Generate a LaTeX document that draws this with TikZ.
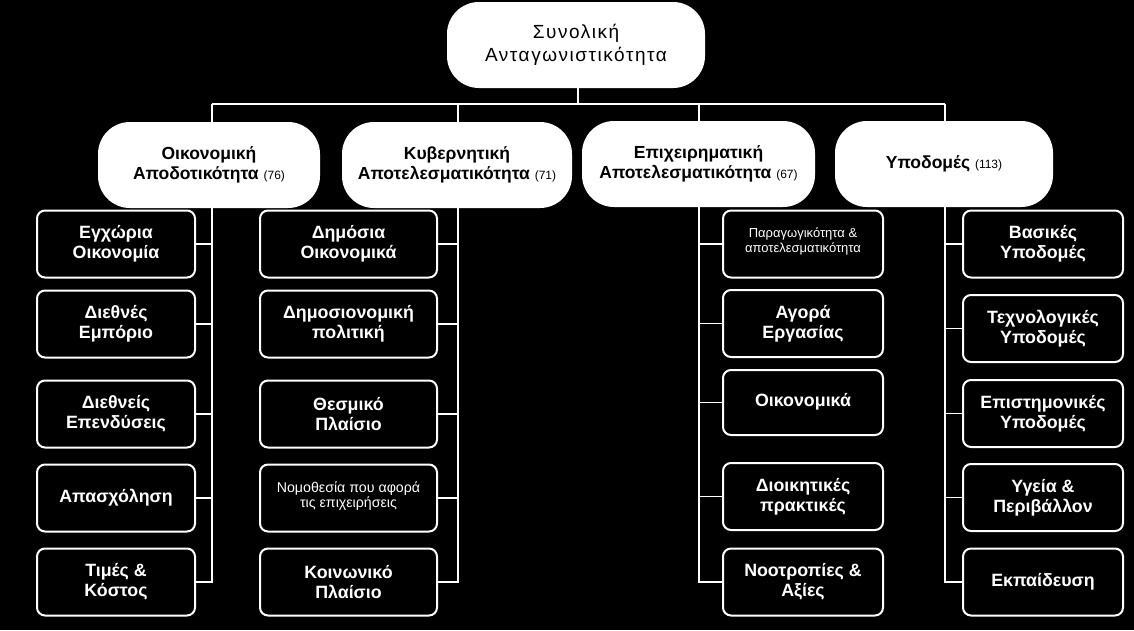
\documentclass[tikz,border=0pt]{standalone}
\usepackage{fontspec}
\setmainfont{Liberation Sans}
\newfontfamily\rootfont[LetterSpace=8]{Liberation Sans}
\begin{document}
\begin{tikzpicture}[x=1pt,y=-1pt,
  topbox/.style={fill=white, rounded corners=32pt, text=black, align=center, inner sep=0pt,
     minimum height=86pt, font=\bfseries\fontsize{17.5}{20}\selectfont},
  leaf/.style={draw=white, line width=2pt, fill=black, rounded corners=8pt, text=white,
     align=center, inner sep=0pt, minimum height=67pt, font=\bfseries\fontsize{17.8}{20}\selectfont},
  smalltext/.style={font=\fontsize{13}{15}\selectfont},
  wire/.style={draw=white, line width=1.6pt}]
\fill[black] (0,0) rectangle (1134,630);
\useasboundingbox (0,0) rectangle (1134,630);

% leaves, column 1
\begin{scope}[every node/.append style={leaf, minimum width=158pt}]
\node (a1) at (116,244) {Εγχώρια\\Οικονομία};
\node (a2) at (116,324) {Διεθνές\\Εμπόριο};
\node (a3) at (116,414) {Διεθνείς\\Επενδύσεις};
\node (a4) at (116,498) {Απασχόληση};
\node (a5) at (116,582) {Τιμές \&\\Κόστος};
\end{scope}
% column 2
\begin{scope}[every node/.append style={leaf, minimum width=177pt}]
\node (b1) at (348.5,244) {Δημόσια\\Οικονομικά};
\node (b2) at (348.5,324) {Δημοσιονομική\\πολιτική};
\node (b3) at (348.5,414) {Θεσμικό\\Πλαίσιο};
\node[font=\fontsize{14.2}{15}\selectfont] (b4) at (348.5,498) {Νομοθεσία που αφορά\\τις επιχειρήσεις\\[-9pt]};
\node (b5) at (348.5,582) {Κοινωνικό\\Πλαίσιο};
\end{scope}
% column 3
\begin{scope}[every node/.append style={leaf, minimum width=160pt}]
\node[smalltext] (c1) at (803,244) {Παραγωγικότητα \&\\αποτελεσματικότητα\\[-8pt]};
\node (c2) at (803,323.5) {Αγορά\\Εργασίας};
\node[minimum height=65pt] (c3) at (803,402.5) {Οικονομικά\\[-14pt]};
\node (c4) at (803,496.5) {Διοικητικές\\πρακτικές};
\node (c5) at (803,582) {Νοοτροπίες \&\\Αξίες};
\end{scope}
% column 4
\begin{scope}[every node/.append style={leaf, minimum width=160pt}]
\node (d1) at (1043,244) {Βασικές\\Υποδομές};
\node (d2) at (1043,328.5) {Τεχνολογικές\\Υποδομές};
\node (d3) at (1043,413.5) {Επιστημονικές\\Υποδομές};
\node (d4) at (1043,497.5) {Υγεία \&\\Περιβάλλον};
\node (d5) at (1043,582) {Εκπαίδευση};
\end{scope}

% bus coordinates
\coordinate (k1) at (212,104);
\coordinate (k2) at (458,104);
\coordinate (k3) at (699,104);
\coordinate (k4) at (945,104);
\coordinate (k0) at (578,104);

% root
\node[topbox, minimum width=258pt, font=\rootfont\fontsize{19}{23}\selectfont] (root) at (576,45) {Συνολική\\Ανταγωνιστικότητα};

% wires
\draw[wire] (root.south -| k0) -- (k0);
\draw[wire] (k1) -- (k4);
\draw[wire] (k1) -- (k1 |- a5.east) -- (a5.east);
\draw[wire] (k2) -- (k2 |- b5.east) -- (b5.east);
\draw[wire] (k3) -- (k3 |- c5.west) -- (c5.west);
\draw[wire] (k4) -- (k4 |- d5.west) -- (d5.west);
\foreach \n in {a1,a2,a3,a4} \draw[wire] (\n.east) -- (\n.east -| k1);
\foreach \n in {b1,b2,b3,b4} \draw[wire] (\n.east) -- (\n.east -| k2);
\foreach \n in {c1,c2,c3,c4} \draw[wire] (\n.west) -- (\n.west -| k3);
\foreach \n in {d1,d2,d3,d4} \draw[wire] (\n.west) -- (\n.west -| k4);

% level 1
\node[topbox, minimum width=222pt] (t1) at (209,165) {Οικονομική\\Αποδοτικότητα {\mdseries\fontsize{12}{14}\selectfont (76)}};
\node[topbox, minimum width=230pt] (t2) at (457,165) {Κυβερνητική\\Αποτελεσματικότητα {\mdseries\fontsize{12}{14}\selectfont (71)}};
\node[topbox, minimum width=233pt] (t3) at (698.5,164) {Επιχειρηματική\\Αποτελεσματικότητα {\mdseries\fontsize{12}{14}\selectfont (67)}};
\node[topbox, minimum width=218pt] (t4) at (944,164) {Υποδομές {\mdseries\fontsize{12}{14}\selectfont (113)}};
\end{tikzpicture}
\end{document}
